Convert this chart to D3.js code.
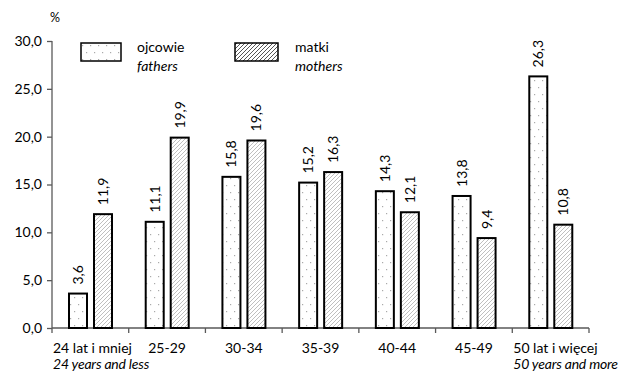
<!DOCTYPE html>
<html><head><meta charset="utf-8">
<script src="https://cdn.jsdelivr.net/npm/d3@7"></script>
<style>
html,body{margin:0;padding:0;background:#fff;}
svg{display:block;font-family:Lato,"Open Sans",sans-serif;}
</style></head>
<body>
<svg id="chart" width="622" height="373"></svg>
<script>
const categories = ["24 lat i mniej","25-29","30-34","35-39","40-44","45-49","50 lat i więcej"];
const categoriesEn = ["24 years and less","","","","","","50 years and more"];
const fathers = [3.6, 11.1, 15.8, 15.2, 14.3, 13.8, 26.3];
const mothers = [11.9, 19.9, 19.6, 16.3, 12.1, 9.4, 10.8];
const yTicks = [0,5,10,15,20,25,30];
const seriesNames = [["ojcowie","fathers"],["matki","mothers"]];

const svg = d3.select("#chart");
const defs = svg.append("defs");
const FS = 14;

// dots pattern
const pd = defs.append("pattern").attr("id","dots").attr("patternUnits","userSpaceOnUse")
  .attr("width",8).attr("height",14).attr("x",0).attr("y",0);
pd.append("rect").attr("width",8).attr("height",14).attr("fill","#fff");
pd.append("rect").attr("x",2).attr("y",3).attr("width",1.2).attr("height",1.2).attr("fill","#aaa");
pd.append("rect").attr("x",6).attr("y",10).attr("width",1.2).attr("height",1.2).attr("fill","#aaa");

// hatch pattern
const ph = defs.append("pattern").attr("id","hatch").attr("patternUnits","userSpaceOnUse")
  .attr("width",4).attr("height",4);
ph.append("rect").attr("width",4).attr("height",4).attr("fill","#fff");
ph.append("path").attr("d","M-1,1 l2,-2 M0,4 l4,-4 M3,5 l2,-2").attr("stroke","#b8b8b8").attr("stroke-width",0.9);

const ph2 = defs.append("pattern").attr("id","hatch2").attr("patternUnits","userSpaceOnUse")
  .attr("width",4).attr("height",4);
ph2.append("rect").attr("width",4).attr("height",4).attr("fill","#fff");
ph2.append("path").attr("d","M-1,1 l2,-2 M0,4 l4,-4 M3,5 l2,-2").attr("stroke","#555").attr("stroke-width",1);

const y = d3.scaleLinear().domain([0,30]).range([328,41]);
const x = d3.scaleBand().domain(categories).range([52,589]).padding(0);

// y axis
const yAxis = svg.append("g").attr("transform","translate(52,0)")
  .call(d3.axisLeft(y).tickValues(yTicks).tickSize(5).tickPadding(5)
    .tickFormat(d => d3.format(".1f")(d).replace(".",",")));
yAxis.select(".domain").attr("stroke","#595959").attr("stroke-width",1.3).attr("d","M0,41V328");
yAxis.selectAll(".tick line").attr("stroke","#595959").attr("stroke-width",1.3);
yAxis.selectAll("text").attr("font-size",FS).attr("fill","#000").attr("font-family","Lato");

// x axis
const xAxis = svg.append("g").attr("transform","translate(0,328)");
xAxis.append("line").attr("x1",52).attr("x2",589).attr("stroke","#595959").attr("stroke-width",1.3);
const bounds = categories.map(c => x(c)).concat([589]);
xAxis.selectAll("line.tk").data(bounds).enter().append("line").attr("class","tk")
  .attr("x1",d=>d).attr("x2",d=>d).attr("y1",0).attr("y2",5).attr("stroke","#595959").attr("stroke-width",1.3);

// category labels
categories.forEach((c,i) => {
  const edge = (i===0 || i===categories.length-1);
  const tx = edge ? x(c)+1 : x(c)+x.bandwidth()/2;
  const anchor = edge ? "start" : "middle";
  svg.append("text").attr("x",tx).attr("y",353).attr("text-anchor",anchor)
    .attr("font-size",FS).text(c);
  if (categoriesEn[i]) {
    svg.append("text").attr("x",tx).attr("y",369).attr("text-anchor",anchor)
      .attr("font-size",FS).attr("font-style","italic").attr("letter-spacing",-0.2).text(categoriesEn[i]);
  }
});

// bars
const bw = 18;
const offs = [17, 42];
const fills = ["url(#dots)","url(#hatch)"];
[fathers, mothers].forEach((vals, s) => {
  const g = svg.append("g");
  g.selectAll("rect").data(vals).enter().append("rect")
    .attr("x",(d,i)=>x(categories[i])+offs[s])
    .attr("y",d=>y(d))
    .attr("width",bw)
    .attr("height",d=>y(0)-y(d))
    .attr("fill",fills[s]).attr("stroke","#000").attr("stroke-width",2);
  g.selectAll("text").data(vals).enter().append("text")
    .attr("transform",(d,i)=>`translate(${x(categories[i])+offs[s]+bw/2+5},${y(d)-9}) rotate(-90)`)
    .attr("font-size",FS).attr("text-anchor","start")
    .text(d=>d3.format(".1f")(d).replace(".",","));
});

// legend
const legX = [81, 235], legW = [40, 43], legTx = [137, 295];
const legFills = ["url(#dots)","url(#hatch2)"];
seriesNames.forEach((n,s) => {
  svg.append("rect").attr("x",legX[s]).attr("y",43).attr("width",legW[s]).attr("height",18)
    .attr("fill",legFills[s]).attr("stroke","#000").attr("stroke-width",1.5);
  svg.append("text").attr("x",legTx[s]).attr("y",52).attr("font-size",FS).text(n[0]);
  svg.append("text").attr("x",legTx[s]).attr("y",71).attr("font-size",FS).attr("font-style","italic").text(n[1]);
});

svg.append("text").attr("x",50).attr("y",22).attr("font-size",12.5).text("%");
</script>
</body></html>
